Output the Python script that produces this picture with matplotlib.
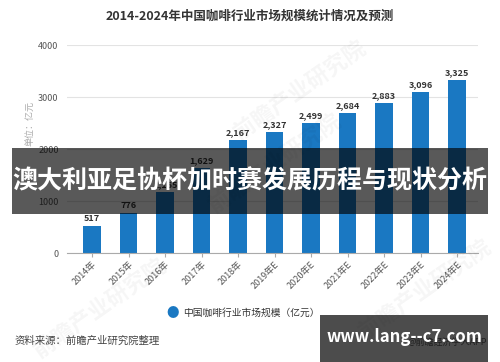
import matplotlib
matplotlib.use("Agg")
import matplotlib.pyplot as plt
from matplotlib.patches import Rectangle

plt.rcParams['font.family'] = ['Noto Sans CJK SC', 'DejaVu Sans']

# 数据
years = ['2014年', '2015年', '2016年', '2017年', '2018年', '2019年E', '2020年E',
         '2021年E', '2022年E', '2023年E', '2024年E']
market = [517, 776, 1165, 1629, 2167, 2327, 2499, 2684, 2883, 3096, 3325]
yticks = [0, 1000, 2000, 3000, 4000]

bar_color = '#1a78c2'

fig = plt.figure(figsize=(5, 3.62), dpi=100)
ax = fig.add_axes([0.134, 0.301, 0.822, 0.5746])

x = list(range(len(years)))
ax.bar(x, market, width=0.47, color=bar_color, zorder=2)
for xi, v in zip(x, market):
    ax.text(xi, v + 60, f'{v:,}', ha='center', va='bottom', fontsize=6.5,
            fontweight='bold', color='#333333', zorder=3)

ax.set_xlim(-0.685, 10.575)
ax.set_ylim(0, 4000)
ax.set_yticks(yticks)
ax.set_yticklabels([str(t) for t in yticks], fontsize=6.5, color='#555555')
ax.set_xticks(x)
ax.set_xticklabels(years, rotation=45, ha='right', rotation_mode='anchor',
                   fontsize=6.5, color='#555555')
ax.tick_params(axis='y', length=0, pad=6)
ax.tick_params(axis='x', length=3, color='#aaaaaa', pad=2)
ax.grid(axis='y', color='#e3e3e3', linewidth=0.8, zorder=0)
for s in ['top', 'right', 'left']:
    ax.spines[s].set_visible(False)
ax.spines['bottom'].set_color('#aaaaaa')

fig.text(0.5, 0.955, '2014-2024年中国咖啡行业市场规模统计情况及预测', ha='center',
         va='center', fontsize=9, fontweight='bold', color='#333333')
fig.text(0.06, 0.66, '单位：亿元', rotation=90, ha='center', va='center',
         fontsize=6.5, color='#aaaaaa')

# 水印
for wx, wy in [(0.6, 0.75), (0.2, 0.15), (0.55, 0.55), (0.85, 0.2)]:
    fig.text(wx, wy, '前瞻产业研究院', rotation=35, ha='center', va='center',
             fontsize=16, color='#000000', alpha=0.04, fontweight='bold')

# 图例
fig.text(0.346, 0.135, '●', ha='center', va='center', fontsize=9, color=bar_color)
fig.text(0.366, 0.135, '中国咖啡行业市场规模（亿元）', ha='left', va='center',
         fontsize=7, color='#333333')
fig.text(0.03, 0.06, '资料来源：前瞻产业研究院整理', ha='left', va='center',
         fontsize=7.5, color='#444444')
fig.text(0.975, 0.055, '@前瞻经济学人APP', ha='right', va='center',
         fontsize=6.5, color='#666666')

# 横幅
fig.patches.append(Rectangle((0.024, 0.409), 0.952, 0.182, transform=fig.transFigure,
                             facecolor='black', alpha=0.65, zorder=5))
fig.text(0.5, 0.5, '澳大利亚足协杯加时赛发展历程与现状分析', ha='center', va='center',
         fontsize=18, fontweight='bold', color='white', zorder=6)

# 网址框
fig.patches.append(Rectangle((0.64, 0.0), 0.336, 0.13, transform=fig.transFigure,
                             facecolor='black', alpha=0.7, zorder=5))
fig.text(0.808, 0.068, 'www.lang--c7.com', ha='center', va='center',
         fontsize=12, fontweight='bold', color='white', zorder=6)

fig.savefig('out.png', dpi=100)
